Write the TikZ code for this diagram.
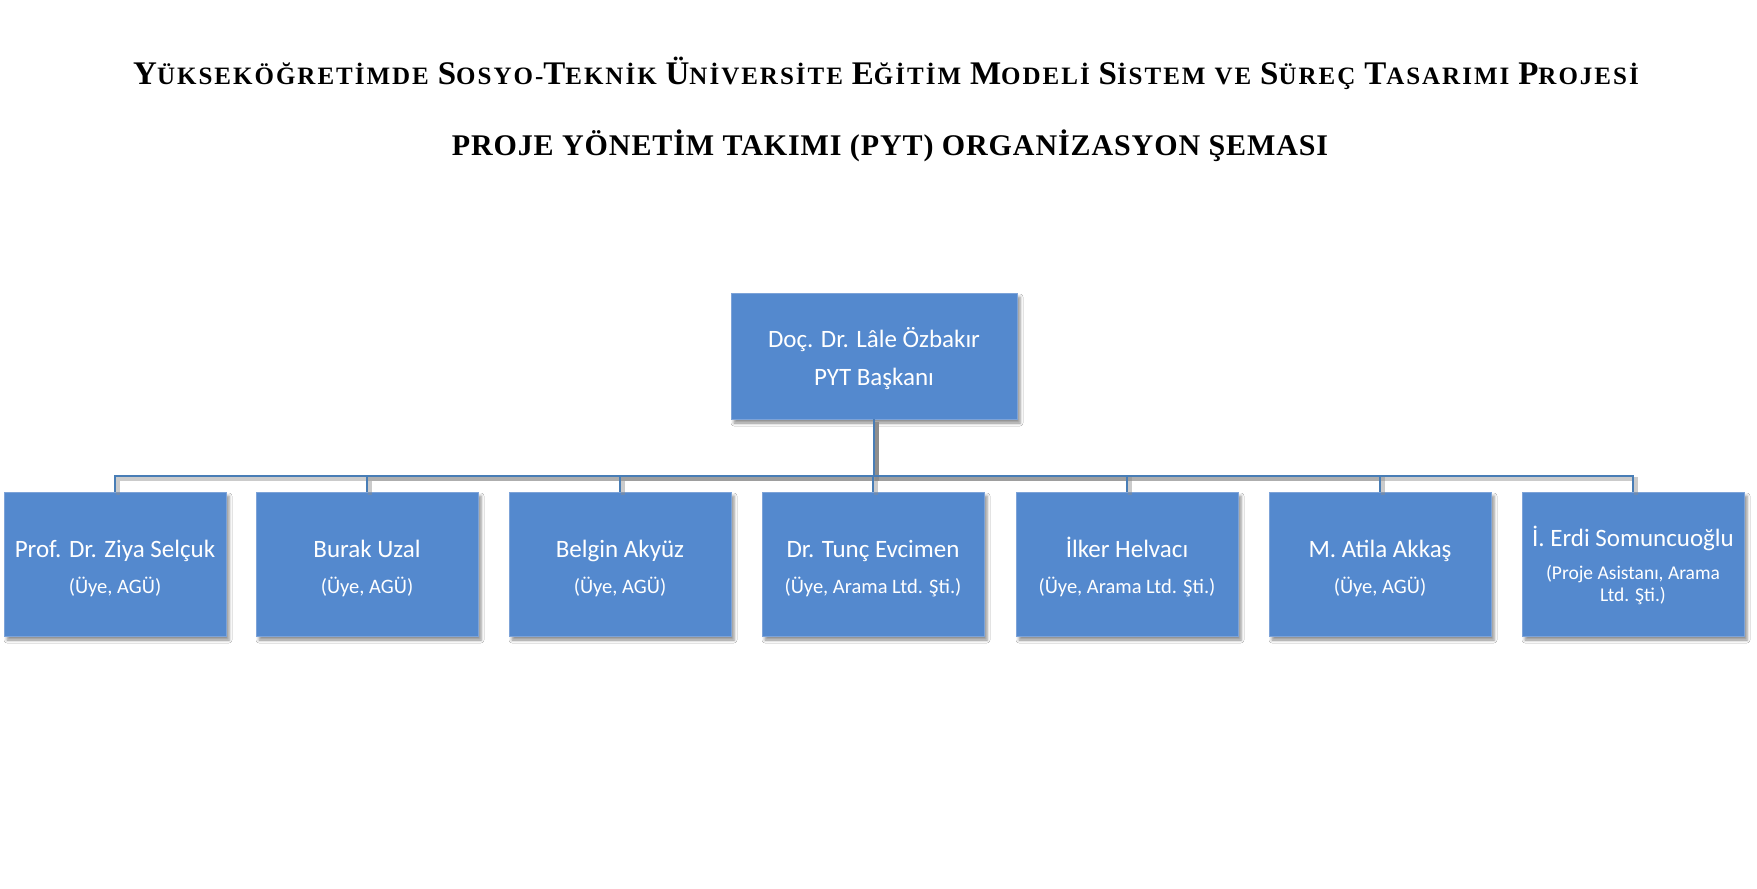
\documentclass[tikz,border=0pt]{standalone}
\usepackage{fontspec}
\setmainfont{Liberation Serif}
\newfontfamily\titleA[LetterSpace=8]{Liberation Serif}
\newfontfamily\titleB[LetterSpace=3]{Liberation Serif}
\newfontfamily\boxfont{Carlito}
\usetikzlibrary{shadows.blur}
\definecolor{boxblue}{RGB}{84,137,206}
\definecolor{boxedge}{RGB}{125,163,216}
\definecolor{linkblue}{RGB}{72,125,182}
\newcommand{\TL}[2]{{\fontsize{33}{33}\selectfont #1}{\fontsize{25}{25}\selectfont #2}}
\newcommand{\SL}[1]{{\fontsize{25}{25}\selectfont #1}}
\tikzset{
  member/.style={draw=boxedge, line width=0.6pt, fill=boxblue, minimum width=222pt, minimum height=144pt, inner sep=0pt,
    blur shadow={shadow xshift=3pt, shadow yshift=-4pt, shadow blur radius=3pt, shadow opacity=45}},
  headbox/.style={member, minimum width=286pt, minimum height=126pt},
  pname/.style={text=white, font=\boxfont\fontsize{25}{25}\selectfont, anchor=base, inner sep=0pt},
  prole/.style={text=white, font=\boxfont\fontsize{20.5}{20.5}\selectfont, anchor=base, inner sep=0pt},
  link/.style={draw=linkblue, line width=2pt},
  linkshadow/.style={draw=black!45, opacity=0.45, line width=3.5pt, transform canvas={shift={(3pt,-3pt)}}},
  titlefont/.style={anchor=base, inner sep=0pt, text=black}
}
\begin{document}
\begin{tikzpicture}[x=1pt, y=-1pt]
\useasboundingbox[fill=white] (0,0) rectangle (1757,889);

% titles
\node[titlefont, font=\titleA\fontsize{27}{27}\selectfont\bfseries] (title1) at (886,84)
 {\TL{Y}{ÜKSEKÖĞRETİMDE} \TL{S}{OSYO-}\TL{T}{EKNİK} \TL{Ü}{NİVERSİTE} \TL{E}{ĞİTİM} \TL{M}{ODELİ} \TL{S}{İSTEM} \SL{VE} \TL{S}{ÜREÇ} \TL{T}{ASARIMI} \TL{P}{ROJESİ}};
\node[titlefont, font=\titleB\fontsize{30}{30}\selectfont\bfseries] (title2) at (890,155)
 {PROJE YÖNETİM TAKIMI (PYT) ORGANİZASYON ŞEMASI};

% boxes
\node[headbox] (head) at (874,356) {};
\node[member] (m1) at (115,564) {};
\node[member] (m2) at (367,564) {};
\node[member] (m3) at (620,564) {};
\node[member] (m4) at (873,564) {};
\node[member] (m5) at (1127,564) {};
\node[member] (m6) at (1380,564) {};
\node[member] (m7) at (1633,564) {};

% connectors
\coordinate (bus) at (874,476);
\foreach \i in {1,...,7} {
  \draw[linkshadow] (head.south) -- (bus) -| (m\i.north);
}
\foreach \i in {1,...,7} {
  \draw[link] (head.south) -- (bus) -| (m\i.north);
}

% texts
\node[pname] (head-a) at (874,347) {Doç. Dr. Lâle Özbakır};
\node[pname] (head-b) at (874,385) {PYT Başkanı};

\node[pname] (m1-a) at (115,557) {Prof. Dr. Ziya Selçuk};
\node[prole] (m1-b) at (115,593) {(Üye, AGÜ)};
\node[pname] (m2-a) at (367,557) {Burak Uzal};
\node[prole] (m2-b) at (367,593) {(Üye, AGÜ)};
\node[pname] (m3-a) at (620,557) {Belgin Akyüz};
\node[prole] (m3-b) at (620,593) {(Üye, AGÜ)};
\node[pname] (m4-a) at (873,557) {Dr. Tunç Evcimen};
\node[prole] (m4-b) at (873,593) {(Üye, Arama Ltd. Şti.)};
\node[pname] (m5-a) at (1127,557) {İlker Helvacı};
\node[prole] (m5-b) at (1127,593) {(Üye, Arama Ltd. Şti.)};
\node[pname] (m6-a) at (1380,557) {M. Atila Akkaş};
\node[prole] (m6-b) at (1380,593) {(Üye, AGÜ)};
\node[pname] (m7-a) at (1633,546) {İ. Erdi Somuncuoğlu};
\node[prole, font=\boxfont\fontsize{19.5}{19.5}\selectfont] (m7-b) at (1633,579) {(Proje Asistanı, Arama};
\node[prole, font=\boxfont\fontsize{19.5}{19.5}\selectfont] (m7-c) at (1633,601) {Ltd. Şti.)};
\end{tikzpicture}
\end{document}
